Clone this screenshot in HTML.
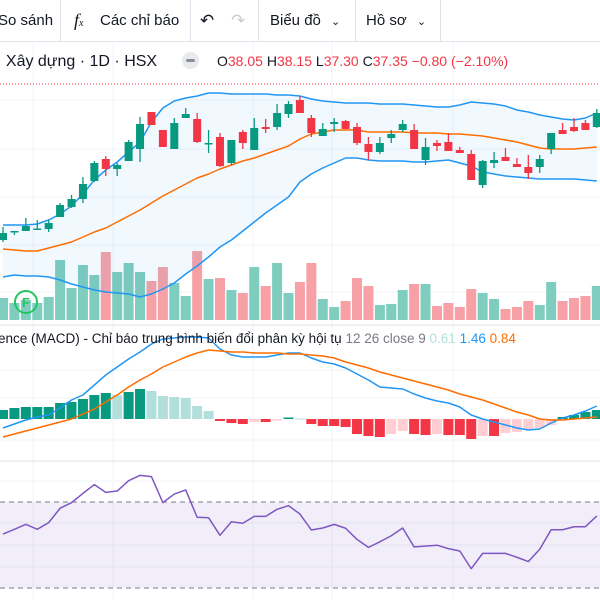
<!DOCTYPE html>
<html><head><meta charset="utf-8">
<style>
html,body{margin:0;padding:0;background:#fff;width:600px;height:600px;overflow:hidden;font-family:"Liberation Sans","Noto Sans CJK SC",sans-serif;}
#tb{position:absolute;left:0;top:0;width:600px;height:41px;border-bottom:1px solid #e0e3eb;}
.ti{position:absolute;top:0;height:41px;line-height:41px;font-size:15px;color:#131722;white-space:nowrap;}
.sep{position:absolute;top:0;width:1px;height:41px;background:#e0e3eb;}
#chart{position:absolute;left:0;top:0;}
</style></head><body>
<div id="tb">
  <div class="ti" style="left:-2px">So sánh</div>
  <div class="sep" style="left:60px"></div>
  <div class="ti" style="left:74px;font-family:'Liberation Serif',serif;font-style:italic;font-size:18px">f<span style="font-size:10px">x</span></div>
  <div class="ti" style="left:100px">Các chỉ báo</div>
  <div class="sep" style="left:190px"></div>
  <div class="ti" style="left:200px;font-size:17px">↶</div>
  <div class="ti" style="left:231px;font-size:17px;color:#c9ccd4">↷</div>
  <div class="sep" style="left:258px"></div>
  <div class="ti" style="left:270px">Biểu đồ <span style="font-size:11px;margin-left:6px">⌄</span></div>
  <div class="sep" style="left:355px"></div>
  <div class="ti" style="left:366px">Hồ sơ <span style="font-size:11px;margin-left:6px">⌄</span></div>
  <div class="sep" style="left:440px"></div>
</div>
<svg id="chart" width="600" height="600" xmlns="http://www.w3.org/2000/svg"></svg>
<script>
// ---- data ----
const opens  =[24.0,24.8,24.9,25.1,25.1,26.3,27.3,28.1,29.9,32.1,31.1,31.9,33.1,36.8,35.0,33.1,36.2,36.1,33.6,34.3,31.7,34.8,33.0,35.3,35.3,36.6,38.0,36.2,34.4,35.6,35.9,35.3,33.6,32.8,34.2,35.0,35.0,32.0,33.7,33.8,33.0,32.6,29.5,31.7,32.3,31.6,31.3,31.3,33.1,35.0,35.3,35.7,35.3];
const highs  =[25.3,24.9,26.2,26.0,26.0,27.7,28.5,30.3,31.9,32.4,31.7,34.0,36.3,36.8,35.0,36.2,37.2,36.7,35.0,34.7,34.0,35.0,36.2,36.1,37.6,37.9,38.4,36.5,35.7,36.2,36.0,35.7,34.3,34.3,35.0,36.0,35.6,34.2,34.0,34.7,33.3,33.0,32.0,32.8,33.2,32.2,32.5,32.5,34.7,35.7,36.2,36.0,37.1];
const lows   =[23.8,24.5,24.9,25.0,24.8,26.3,27.2,27.7,29.8,30.4,30.4,31.9,31.8,35.5,33.3,33.1,36.2,33.7,32.7,31.3,31.5,33.1,33.0,34.7,35.0,36.2,36.7,34.3,34.4,34.8,35.1,33.5,32.0,32.6,33.7,34.8,33.1,31.5,32.9,32.9,32.7,30.0,29.2,31.2,31.9,31.3,30.1,30.7,32.6,34.6,34.8,35.0,35.2];
const closes =[24.7,24.9,25.4,25.15,25.7,27.5,28.1,29.6,31.7,31.1,31.5,33.8,35.6,35.5,33.3,35.7,36.6,33.8,33.7,31.4,34.0,33.7,35.2,35.1,36.7,37.6,36.7,34.7,35.1,35.8,35.1,33.7,32.8,33.7,34.6,35.6,33.1,33.3,33.4,32.9,32.7,30.0,31.9,32.0,31.9,31.3,30.7,32.1,34.7,34.6,34.9,35.0,36.7];
const bbUpper=[25.5,25.5,25.5,25.6,26.0,26.6,27.4,28.6,30.0,31.0,31.8,32.8,33.8,35.8,37.2,37.9,38.2,38.4,38.7,38.7,38.6,38.6,38.6,38.6,38.5,38.5,38.4,38.1,37.9,37.8,37.7,37.7,37.7,37.6,37.6,37.6,37.5,37.4,37.3,37.3,37.5,37.8,37.7,37.6,37.4,37.0,36.8,36.5,36.3,36.1,36.0,36.2,36.7];
const bbMid  =[23.1,23.0,22.9,22.9,23.2,23.5,23.8,24.3,24.8,25.2,25.8,26.4,27.0,27.7,28.4,29.0,29.6,30.2,30.6,31.1,31.5,31.9,32.2,32.6,33.0,33.4,34.1,34.6,34.8,35.0,35.0,35.0,34.8,34.8,34.8,34.8,34.7,34.7,34.7,34.6,34.6,34.5,34.4,34.2,34.0,33.8,33.5,33.2,33.1,33.1,33.1,33.2,33.3];
const bbLower=[20.3,20.5,20.4,20.4,20.3,20.0,19.6,19.3,19.0,18.8,18.7,18.6,18.3,18.6,19.1,19.7,20.6,21.4,22.3,23.3,24.0,24.9,25.8,26.7,27.5,28.3,29.8,30.6,31.2,31.7,32.2,32.2,32.0,31.9,31.9,31.9,31.8,31.8,31.9,32.0,31.7,31.4,30.8,30.6,30.4,30.3,30.2,30.1,30.1,30.1,30.1,30.0,29.9];
const volumes=[22,17,20,17,23,60,32,55,45,68,48,57,48,39,53,37,24,69,41,42,30,27,53,34,57,27,38,57,21,13,19,42,34,15,16,30,36,36,14,17,13,31,27,21,11,13,19,15,38,19,22,24,34];
const macdLine=[-0.9,-0.5,-0.1,0.2,0.4,1.1,1.9,2.4,3.4,4.4,5.2,6.0,6.7,7.5,8.0,8.1,8.2,8.2,8.1,7.0,6.4,6.2,6.2,6.2,6.4,6.6,6.6,6.1,5.7,5.5,5.1,4.5,3.9,3.2,3.1,3.0,2.5,2.1,1.8,1.6,1.2,0.4,0.0,-0.3,-0.6,-0.9,-1.1,-1.0,-0.4,0.1,0.4,0.8,1.3];
const signalLine=[-1.8,-1.5,-1.2,-0.9,-0.6,-0.3,0.0,0.5,1.0,1.7,2.4,3.2,3.9,4.5,5.2,5.7,6.2,6.6,6.9,6.8,6.7,6.7,6.6,6.6,6.6,6.5,6.5,6.4,6.3,6.1,5.7,5.4,5.1,4.7,4.4,4.1,3.8,3.5,3.2,2.9,2.5,2.2,1.9,1.5,1.1,0.7,0.4,0.0,-0.1,-0.1,0.0,0.1,0.2];
const macdHist=[0.9,1.1,1.2,1.2,1.2,1.6,1.7,2.0,2.4,2.6,2.4,2.7,3.0,2.8,2.3,2.2,2.1,1.3,0.8,-0.2,-0.4,-0.5,-0.3,-0.3,-0.15,0.15,0.05,-0.5,-0.7,-0.7,-0.8,-1.5,-1.7,-1.8,-1.5,-1.2,-1.5,-1.6,-1.5,-1.6,-1.6,-2.0,-1.7,-1.7,-1.4,-1.3,-1.1,-0.9,-0.6,0.2,0.4,0.7,0.9];
const rsiValues=[55.1,57.3,59.6,57.3,60.4,67.1,69.7,74.0,78.1,74.5,75.1,79.9,82.4,81.8,69.7,73.7,75.6,62.9,62.7,54.5,60.8,60.1,63.3,63.3,66.6,68.3,64.4,57.0,57.9,59.6,57.8,52.6,48.9,51.5,54.3,57.9,49.1,49.5,49.9,48.3,47.2,39.0,46.1,46.1,46.1,44.3,42.3,48.0,57.1,57.1,58.5,58.5,63.5];
const rsiLevels=[70,30];

// ---- scales ----
const xC=i=>3+i*11.42;
const yP=p=>480-p*10;           // price panel
const yV=v=>320-v;               // volume
const yM=v=>419-v*10;            // macd
const yR=v=>502+(70-v)*2.15;     // rsi
const UP='#089981',DN='#f23645';
const svg=document.getElementById('chart');
const NS='http://www.w3.org/2000/svg';
function mk(tag,attrs,parent){const e=document.createElementNS(NS,tag);for(const k in attrs)e.setAttribute(k,attrs[k]);(parent||svg).appendChild(e);return e;}
function g(name){const e=mk('g',{});return e;}

// grid
const grid=g('grid-lines');
[33,113,253,332,453].forEach(x=>{mk('line',{x1:x,x2:x,y1:42,y2:600,stroke:'#f0f3fa','stroke-width':1},grid);});
[100,149,197,245,292,370,398,440,481,523,545,567].forEach(y=>{mk('line',{x1:0,x2:600,y1:y,y2:y,stroke:'#f0f3fa','stroke-width':1},grid);});
// separators
const seps=g('pane-separators');
[325,461].forEach(y=>{mk('line',{x1:0,x2:600,y1:y,y2:y,stroke:'#e0e3eb','stroke-width':1},seps);});

// volume
const vol=g('volume-bars');
volumes.forEach((v,i)=>{const r=mk('rect',{x:xC(i)-5,y:yV(v),width:10,height:v,fill:closes[i]>=opens[i]?'#7fcdbf':'#f7a1a7'},vol);

});

// bollinger fill
const bb=g('bollinger-bands');
let fd='M'+bbUpper.map((v,i)=>xC(i)+','+yP(v)).join('L');
for(let i=bbLower.length-1;i>=0;i--)fd+='L'+xC(i)+','+yP(bbLower[i]);
mk('path',{d:fd+'Z',fill:'rgba(33,150,243,0.06)'},bb);
function line(arr,xf,yf,color,parent,name,w){const p=mk('path',{d:'M'+arr.map((v,i)=>xf(i)+','+yf(v)).join('L'),fill:'none',stroke:color,'stroke-width':w||1.5,'stroke-linejoin':'round'},parent);

return p;}
line(bbUpper,xC,yP,'#2196f3',bb,'bb-upper');
line(bbMid,xC,yP,'#ff6d00',bb,'bb-basis');
line(bbLower,xC,yP,'#2196f3',bb,'bb-lower');

// candles
const cg=g('candlesticks');
opens.forEach((o,i)=>{const c=closes[i],col=c>=o?UP:DN,x=xC(i);
const grp=mk('g',{},cg);


mk('line',{x1:x,x2:x,y1:yP(highs[i]),y2:yP(lows[i]),stroke:col,'stroke-width':1.3},grp);
const t=yP(Math.max(o,c)),b=yP(Math.min(o,c));
mk('rect',{x:x-4,y:t,width:8,height:Math.max(b-t,1.5),fill:col},grp);});

// price line
const pl=mk('line',{x1:0,x2:600,y1:84,y2:84,stroke:'#f23645','stroke-width':1,'stroke-dasharray':'1,2'});



// F marker
const fm=g('dividend-marker');
mk('circle',{cx:26,cy:302,r:11,fill:'none',stroke:'#22c55e','stroke-width':2},fm);
const ft=mk('text',{x:26,y:307,'text-anchor':'middle','font-size':13,'font-weight':'bold',fill:'#22c55e','font-family':'Liberation Sans, sans-serif'},fm);ft.textContent='F';

// macd
const mg=g('macd-pane');
macdHist.forEach((v,i)=>{const prev=i>0?macdHist[i-1]:0;let col;
if(v>=0)col=v>=prev?'#089981':'#b2dfdb';else col=v<=prev?'#f23645':'#ffcdd2';
const y0=yM(0),y1=yM(v);
const r=mk('rect',{x:xC(i)-5,y:Math.min(y0,y1),width:10,height:Math.max(Math.abs(y1-y0),1),fill:col},mg);

});
line(macdLine,xC,yM,'#2196f3',mg,'macd-line');
line(signalLine,xC,yM,'#ff6d00',mg,'signal-line');

// rsi
const rg=g('rsi-pane');
mk('rect',{x:0,y:yR(rsiLevels[0]),width:600,height:yR(rsiLevels[1])-yR(rsiLevels[0]),fill:'rgba(126,87,194,0.1)'},rg);
rsiLevels.forEach(l=>{mk('line',{x1:0,x2:600,y1:yR(l),y2:yR(l),stroke:'#787b86','stroke-width':1,'stroke-dasharray':'5,4'},rg);});
line(rsiValues,xC,yR,'#7e57c2',rg,'rsi-line',1.5);

// legends
function txt(x,y,s,col,size,name,parent){const t=mk('text',{x:x,y:y,fill:col,'font-size':size,'font-family':'Liberation Sans, Noto Sans CJK SC, sans-serif'},parent);t.textContent=s;

return t;}
txt(-3,66,'ı Xây dựng · 1D · HSX','#131722',16,'symbol-title');
const pill=mk('rect',{x:182,y:52,width:17,height:17,rx:8.5,fill:'#e9eaee'});


mk('rect',{x:186,y:59,width:9,height:3,rx:1.5,fill:'#8a8e99'});
const oh=mk('text',{x:217,y:66,'font-size':14,'font-family':'Liberation Sans, sans-serif',fill:'#f23645'});


oh.innerHTML='<tspan fill="#131722">O</tspan>38.05 <tspan fill="#131722">H</tspan>38.15 <tspan fill="#131722">L</tspan>37.30 <tspan fill="#131722">C</tspan>37.35 −0.80 (−2.10%)';
const ml=mk('text',{x:-2,y:343,'font-size':13.5,'font-family':'Liberation Sans, Noto Sans CJK SC, sans-serif',fill:'#131722'});


ml.innerHTML='ence (MACD) - Chỉ báo trung bình biến đổi phân kỳ hội tụ <tspan fill="#787b86">12 26 close 9</tspan>  <tspan fill="#b2dfdb">0.61</tspan>  <tspan fill="#2196f3">1.46</tspan>  <tspan fill="#ff6d00">0.84</tspan>';
</script>
</body></html>
